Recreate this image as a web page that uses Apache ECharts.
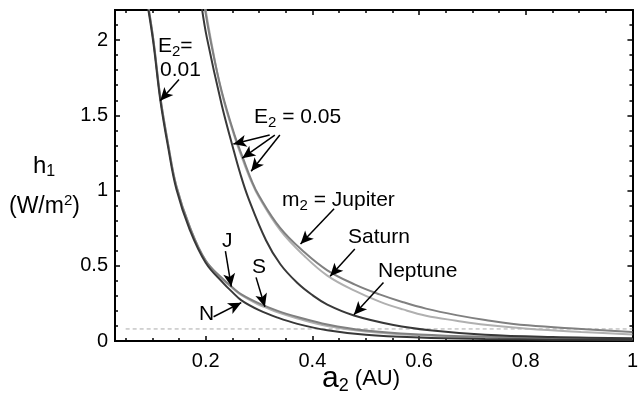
<!DOCTYPE html>
<html>
<head>
<meta charset="utf-8">
<script src="https://cdn.jsdelivr.net/npm/echarts@6/dist/echarts.min.js"></script>
<style>
  html, body { margin: 0; padding: 0; background: #fff; }
  #chart { width: 641px; height: 393px; }
</style>
</head>
<body>
<div id="chart"></div>
<script>
// h1 (W/m^2) against a2 (AU)
const jupiter01 = [[0.0926, 2.22], [0.102, 2.0], [0.115, 1.62], [0.13, 1.3], [0.145, 1.03], [0.17, 0.76], [0.2, 0.535], [0.233, 0.41], [0.25, 0.357], [0.267, 0.31], [0.3, 0.25], [0.335, 0.2], [0.372, 0.16], [0.428, 0.11], [0.5, 0.07], [0.6, 0.044], [0.724, 0.028], [0.85, 0.02], [1.0, 0.014]];
const saturn01 = [[0.0926, 2.22], [0.102, 2.0], [0.115, 1.62], [0.13, 1.3], [0.145, 1.03], [0.17, 0.76], [0.2, 0.533], [0.233, 0.405], [0.25, 0.352], [0.267, 0.304], [0.3, 0.24], [0.311, 0.225], [0.335, 0.19], [0.372, 0.15], [0.428, 0.1], [0.5, 0.063], [0.6, 0.038], [0.724, 0.023], [0.85, 0.016], [1.0, 0.011]];
const neptune01 = [[0.0926, 2.2], [0.102, 1.98], [0.115, 1.6], [0.13, 1.28], [0.145, 1.01], [0.17, 0.74], [0.2, 0.52], [0.233, 0.385], [0.25, 0.325], [0.267, 0.27], [0.3, 0.205], [0.335, 0.155], [0.372, 0.114], [0.428, 0.072], [0.5, 0.042], [0.6, 0.024], [0.724, 0.014], [0.85, 0.009], [1.0, 0.006]];

const jupiter05 = [[0.198, 2.22], [0.21, 1.98], [0.23, 1.66], [0.254, 1.37], [0.27, 1.215], [0.285, 1.075], [0.3, 0.965], [0.34, 0.75], [0.385, 0.59], [0.428, 0.47], [0.48, 0.375], [0.526, 0.31], [0.57, 0.258], [0.613, 0.215], [0.67, 0.172], [0.724, 0.14], [0.804, 0.104], [0.904, 0.08], [1.0, 0.06]];
const saturn05 = [[0.199, 2.22], [0.211, 1.98], [0.23, 1.65], [0.254, 1.36], [0.27, 1.2], [0.285, 1.065], [0.3, 0.955], [0.34, 0.735], [0.385, 0.565], [0.428, 0.435], [0.48, 0.333], [0.526, 0.262], [0.57, 0.21], [0.613, 0.168], [0.67, 0.135], [0.724, 0.108], [0.804, 0.082], [0.904, 0.06], [1.0, 0.043]];
const neptune05 = [[0.1926, 2.22], [0.202, 2.02], [0.23, 1.57], [0.25, 1.3], [0.265, 1.11], [0.28, 0.95], [0.313, 0.67], [0.34, 0.51], [0.372, 0.385], [0.4, 0.305], [0.428, 0.242], [0.478, 0.17], [0.552, 0.107], [0.62, 0.072], [0.724, 0.042], [0.85, 0.027], [1.0, 0.019]];

// dashed reference level
const refLevel = [[0.05, 0.08], [1.0, 0.08]];

const xMajor = [0.2, 0.4, 0.6, 0.8, 1];
const xMinor = [0.05, 0.1, 0.15, 0.25, 0.3, 0.35, 0.45, 0.5, 0.55, 0.65, 0.7, 0.75, 0.85, 0.9, 0.95];
const yMajor = [0, 0.5, 1, 1.5, 2];
const yMinor = [0.1, 0.2, 0.3, 0.4, 0.6, 0.7, 0.8, 0.9, 1.1, 1.2, 1.3, 1.4, 1.6, 1.7, 1.8, 1.9, 2.1, 2.2];

// arrows: [tail, head] in data units
const arrows = [
  [[0.15, 1.738], [0.1148, 1.597]],
  [[0.32, 1.369], [0.2519, 1.309]],
  [[0.3296, 1.369], [0.2685, 1.215]],
  [[0.339, 1.369], [0.2852, 1.128]],
  [[0.4407, 0.879], [0.3778, 0.644]],
  [[0.4796, 0.611], [0.4333, 0.43]],
  [[0.5333, 0.389], [0.4778, 0.1745]],
  [[0.237, 0.597], [0.248, 0.362]],
  [[0.2944, 0.423], [0.311, 0.228]],
  [[0.2148, 0.161], [0.2667, 0.255]]
];

const FONT = '"Liberation Sans", Arial, Helvetica, sans-serif';
const chart = echarts.init(document.getElementById('chart'));

function xAxisDef (pos, ticks, len, withLabels) {
  return {
    type: 'value', position: pos, min: 0.03, max: 1,
    axisLine: { show: true, onZero: false, lineStyle: { color: '#000', width: 2 } },
    axisTick: { show: true, inside: true, length: len, customValues: ticks, lineStyle: { color: '#000', width: 1.5 } },
    axisLabel: withLabels
      ? { show: true, customValues: ticks, margin: 10, color: '#000', fontSize: 20, fontFamily: FONT }
      : { show: false },
    splitLine: { show: false }
  };
}
function yAxisDef (pos, ticks, len, withLabels) {
  return {
    type: 'value', position: pos, min: 0, max: 2.2,
    axisLine: { show: true, onZero: false, lineStyle: { color: '#000', width: 2 } },
    axisTick: { show: true, inside: true, length: len, customValues: ticks, lineStyle: { color: '#000', width: 1.5 } },
    axisLabel: withLabels
      ? { show: true, customValues: ticks, margin: 7, color: '#000', fontSize: 20, fontFamily: FONT }
      : { show: false },
    splitLine: { show: false }
  };
}

function curve (name, data, color, width) {
  return {
    name, type: 'line', data, smooth: 0.4, showSymbol: false, silent: true,
    lineStyle: { color, width }, xAxisIndex: 0, yAxisIndex: 0, z: 3
  };
}

const rich = {
  t: { fontSize: 21, fontFamily: FONT, color: '#000' },
  s: { fontSize: 15, fontFamily: FONT, color: '#000', padding: [11, 0, 0, 0] },
  big: { fontSize: 24, fontFamily: FONT, color: '#000' },
  bs: { fontSize: 16, fontFamily: FONT, color: '#000', padding: [12, 0, 0, 0] },
  ax: { fontSize: 30, fontFamily: FONT, color: '#000' },
  axs: { fontSize: 18, fontFamily: FONT, color: '#000', padding: [14, 0, 0, 0] },
  au: { fontSize: 22, fontFamily: FONT, color: '#000' },
  pu: { fontSize: 23, fontFamily: FONT, color: '#000' },
  pus: { fontSize: 15, fontFamily: FONT, color: '#000', padding: [0, 0, 12, 0] }
};
function label (x, y, text) {
  return { type: 'text', x, y, silent: true, style: { text, rich, align: 'left', verticalAlign: 'middle' } };
}

chart.setOption({
  animation: false,
  textStyle: { fontFamily: FONT },
  grid: { left: 115, right: 2, top: 10, bottom: 52 },
  xAxis: [
    xAxisDef('bottom', xMajor, 5, true),
    xAxisDef('bottom', xMinor, 3, false),
    xAxisDef('top', xMajor, 5, false),
    xAxisDef('top', xMinor, 3, false)
  ],
  yAxis: [
    yAxisDef('left', yMajor, 5, true),
    yAxisDef('left', yMinor, 3, false),
    yAxisDef('right', yMajor, 5, false),
    yAxisDef('right', yMinor, 3, false)
  ],
  series: [
    {
      name: 'ref', type: 'line', data: refLevel, showSymbol: false, silent: true,
      lineStyle: { color: '#aaa', width: 1, type: [4, 3] }, z: 2,
      markLine: {
        silent: true, symbol: ['none', 'arrow'], symbolSize: [9, 13],
        label: { show: false },
        lineStyle: { color: '#000', width: 1.5, type: 'solid' },
        data: arrows.map(a => [{ coord: a[0] }, { coord: a[1] }])
      }
    },
    curve('Saturn 0.01', saturn01, '#b0b0b0', 2),
    curve('Jupiter 0.01', jupiter01, '#808080', 2),
    curve('Neptune 0.01', neptune01, '#383838', 2),
    curve('Saturn 0.05', saturn05, '#b0b0b0', 2),
    curve('Jupiter 0.05', jupiter05, '#808080', 2),
    curve('Neptune 0.05', neptune05, '#383838', 2)
  ],
  graphic: [
    label(158, 46, '{t|E}{s|2}{t|=}'),
    label(160, 70, '{t|0.01}'),
    label(254, 117, '{t|E}{s|2}{t| = 0.05}'),
    label(282, 200, '{t|m}{s|2}{t| = Jupiter}'),
    label(348, 237, '{t|Saturn}'),
    label(378, 271, '{t|Neptune}'),
    label(222, 241, '{t|J}'),
    label(252, 267, '{t|S}'),
    label(199, 314, '{t|N}'),
    label(33, 166, '{big|h}{bs|1}'),
    label(9, 207, '{pu|(W/m}{pus|2}{pu|)}'),
    label(322, 379, '{ax|a}{axs|2}{au| (AU)}')
  ]
});
</script>
</body>
</html>
